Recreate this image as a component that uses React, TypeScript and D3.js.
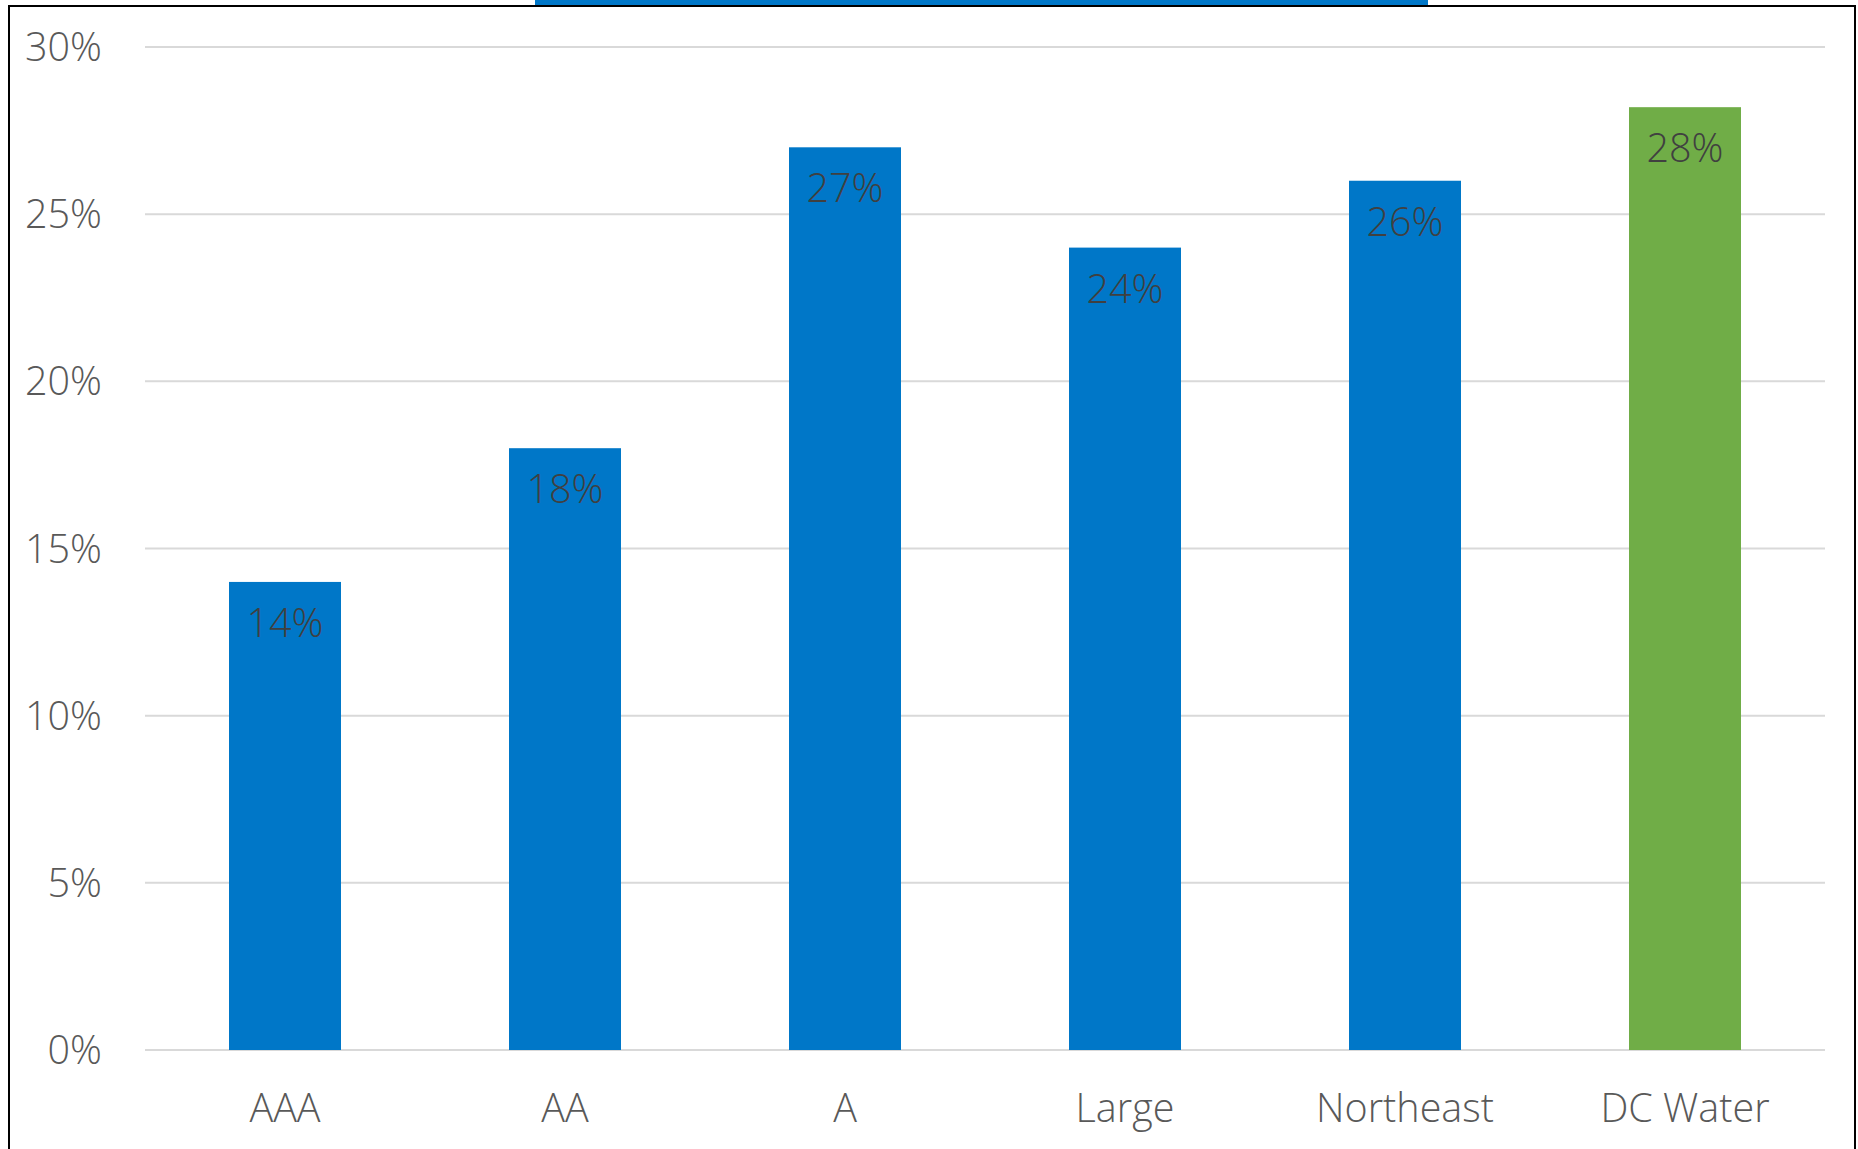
import React from "react";
import * as d3 from "d3";

const categories = ["AAA", "AA", "A", "Large", "Northeast", "DC Water"];
const values = [0.14, 0.18, 0.27, 0.24, 0.26, 0.282];
const valueLabels = ["14%", "18%", "27%", "24%", "26%", "28%"];
const barColors = ["#0077C8", "#0077C8", "#0077C8", "#0077C8", "#0077C8", "#70AD47"];
const yTicks = [0, 0.05, 0.1, 0.15, 0.2, 0.25, 0.3];

const W = 1858;
const H = 1149;
const FONT = "'Open Sans', 'Noto Sans', sans-serif";
const FS = 39.5;

export default function App() {
  const x = d3.scaleBand<string>().domain(categories).range([145, 1825]).paddingInner(0.6).paddingOuter(0.3);
  const y = d3.scaleLinear().domain([0, 0.3]).range([1050, 47]);
  const fmt = d3.format(".0%");

  return (
    <svg width={W} height={H} style={{ position: "absolute", left: 0, top: 0, background: "#fff" }}>
      <rect x={0} y={0} width={W} height={H} fill="#fff" />
      <rect x={9} y={6} width={1846} height={H + 10} fill="none" stroke="#000" strokeWidth={2} />
      <rect x={535} y={0} width={893} height={5} fill="#0077C8" />
      {yTicks.map((t) => (
        <g key={t}>
          <line x1={145} x2={1825} y1={y(t)} y2={y(t)} stroke="#D9D9D9" strokeWidth={2} />
          <text x={102} y={y(t) + 14} textAnchor="end" fontFamily={FONT} fontSize={FS} fontWeight={300} fill="#595959">
            {fmt(t)}
          </text>
        </g>
      ))}
      {categories.map((c, i) => (
        <g key={c}>
          <rect x={x(c)} y={y(values[i])} width={x.bandwidth()} height={y(0) - y(values[i])} fill={barColors[i]} />
          <text
            x={(x(c) as number) + x.bandwidth() / 2}
            y={y(values[i]) + 55}
            textAnchor="middle"
            fontFamily={FONT}
            fontSize={FS}
            fontWeight={300}
            fill="#404040"
          >
            {valueLabels[i]}
          </text>
          <text
            x={(x(c) as number) + x.bandwidth() / 2}
            y={1122}
            textAnchor="middle"
            fontFamily={FONT}
            fontSize={FS}
            fontWeight={300}
            fill="#595959"
          >
            {c}
          </text>
        </g>
      ))}
    </svg>
  );
}
